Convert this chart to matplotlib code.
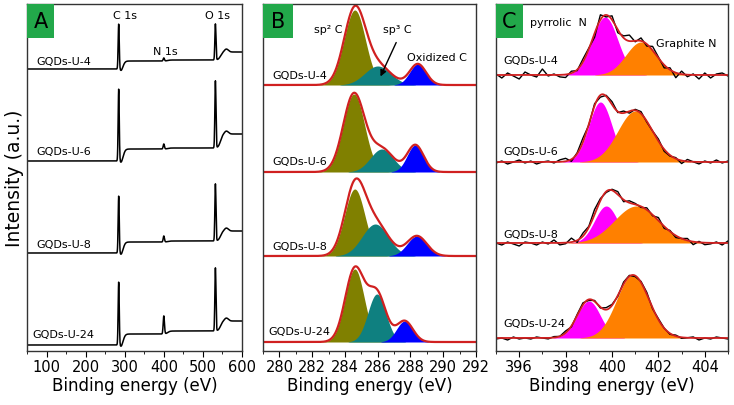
import matplotlib
matplotlib.use('Agg')
import matplotlib.pyplot as plt
from matplotlib.patches import Rectangle
import numpy as np

plt.rcParams['font.family'] = ['DejaVu Sans']

samples = ['GQDs-U-4', 'GQDs-U-6', 'GQDs-U-8', 'GQDs-U-24']

# panel A: survey spectra (offset + peak heights, a.u.)
survey_base = [282, 190, 98, 6]
c1s_peak = [45, 72, 57, 63]
c1s_step = [8, 12, 11, 11]
n1s_peak = [3, 5, 6, 18]
n1s_step = [1, 1, 1, 3]
o1s_peak = [36, 67, 57, 63]
o1s_step = [8, 14, 10, 10]

# panel B: C 1s fits (center eV, height, sigma)
c_base = [266, 179, 95, 9]
sp2_pos = [284.6, 284.55, 284.6, 284.6]
sp2_h = [75, 78, 67, 73]
sp2_w = [0.65, 0.65, 0.62, 0.58]
sp3_pos = [286.0, 286.25, 285.85, 285.95]
sp3_h = [19, 23, 32, 48]
sp3_w = [0.8, 0.7, 0.8, 0.55]
oxc_pos = [288.45, 288.3, 288.4, 287.65]
oxc_h = [21, 27, 20, 21]
oxc_w = [0.5, 0.5, 0.6, 0.5]

# panel C: N 1s fits
n_base = [276, 189, 108, 13]
pyr_pos = [399.7, 399.5, 399.75, 399.0]
pyr_h = [58, 60, 37, 37]
pyr_w = [0.55, 0.5, 0.5, 0.5]
gra_pos = [401.25, 401.0, 401.05, 400.9]
gra_h = [33, 51, 37, 63]
gra_w = [0.65, 0.75, 0.95, 0.7]
# raw-data scatter around the fit, 395-405 eV every 0.25 eV
n_noise = [
    [1, -3, 2, -1, -4, 3, 0, -2, 6, -1, 1, -2, -3, 2, -1, 3, 1, -4, 5, -2, 4,
     -3, 2, 6, -1, 3, -2, 4, 1, -3, 2, -5, 3, -2, 1, -4, 2, -3, 1, 2, -1],
    [-1, 1, -2, 0, 2, -1, 1, -2, 0, 1, -1, 2, 3, -2, 1, 4, -1, 2, -2, 1, 3,
     -1, 2, -2, 1, 2, -1, 0, 2, -2, -1, 1, -3, 2, 0, -2, 1, -1, 2, -1, 1],
    [0, -2, 1, -1, -3, 1, 0, -2, 1, -1, 3, -2, -1, 4, -2, 3, 1, 5, 2, -1, 1,
     3, -2, 2, 1, -1, 2, -1, 3, -2, 1, -2, 0, 2, -3, 1, -2, -1, 1, -2, 2],
    [-1, 0, -2, 1, -1, 0, -1, 1, 0, -1, 1, 0, 2, -1, 1, 2, -1, 1, -1, 2, 1,
     -1, 2, 1, -1, 1, 2, -1, 1, 0, -1, 1, -1, 0, 1, -2, 0, -1, 1, 0, -1],
]

GREEN = '#22a84a'
RED = '#d02020'


def gauss(x, c, h, w):
    return h * np.exp(-0.5 * ((x - c) / w) ** 2)


def step(x, c, w):
    return 1.0 / (1.0 + np.exp(-(x - c) / w))


def letter(ax, s, wfrac):
    ax.add_patch(Rectangle((0, 1 - 34 / 347), wfrac, 34 / 347, transform=ax.transAxes,
                           facecolor=GREEN, edgecolor='none', zorder=5))
    ax.text(wfrac / 2, 1 - 17 / 347, s, transform=ax.transAxes, ha='center', va='center',
            fontsize=15, zorder=6)


def style(ax, xlim, major, minor):
    ax.set_xlim(*xlim)
    ax.set_ylim(0, 347)
    ax.set_yticks([])
    ax.set_xticks(major)
    ax.set_xticks(minor, minor=True)
    ax.tick_params(axis='x', direction='out', length=4, labelsize=10.5, pad=2)
    ax.tick_params(axis='x', which='minor', direction='out', length=2)
    ax.set_xlabel('Binding energy (eV)', fontsize=12, labelpad=1)
    for s in ax.spines.values():
        s.set_linewidth(1.0)
        s.set_color('#333333')


fig = plt.figure(figsize=(7.34, 4.06), dpi=100)
H = 406.0
W = 734.0
axA = fig.add_axes([27 / W, 54 / H, 215 / W, 347 / H])
axB = fig.add_axes([263 / W, 54 / H, 213 / W, 347 / H])
axC = fig.add_axes([496 / W, 54 / H, 232 / W, 347 / H])

# ---- A ----
e = np.arange(50, 600.5, 0.5)
label_y_A = [290, 200, 107, 17]
for i in range(4):
    y = (survey_base[i] + gauss(e, 284.6, c1s_peak[i], 1.4)
         + c1s_step[i] * step(e, 297, 2.5) - gauss(e, 291, 2, 2.5)
         + gauss(e, 400, n1s_peak[i], 1.6) + n1s_step[i] * step(e, 410, 3)
         + gauss(e, 532, o1s_peak[i], 1.4) + o1s_step[i] * step(e, 545, 3)
         + gauss(e, 560, 3, 5))
    axA.plot(e, y, color='black', lw=1.1)
    axA.text(75 if i < 3 else 65, label_y_A[i], samples[i], fontsize=8, va='center')
axA.text(300, 336, 'C 1s', fontsize=8, ha='center', va='center')
axA.text(405, 300, 'N 1s', fontsize=8, ha='center', va='center')
axA.text(537, 336, 'O 1s', fontsize=8, ha='center', va='center')
axA.set_ylabel('Intensity (a.u.)', fontsize=13.5, labelpad=2)
style(axA, (50, 600), range(100, 601, 100), range(50, 601, 50))
letter(axA, 'A', 27 / 215)

# ---- B ----
eb = np.arange(279, 292.01, 0.02)
label_y_B = [276, 190, 105, 20]
for i in range(4):
    b = c_base[i]
    g1 = gauss(eb, sp2_pos[i], sp2_h[i], sp2_w[i])
    g2 = gauss(eb, sp3_pos[i], sp3_h[i], sp3_w[i])
    g3 = gauss(eb, oxc_pos[i], oxc_h[i], oxc_w[i])
    axB.fill_between(eb, b, b + g1, color='#808000', lw=0)
    axB.fill_between(eb, b, b + g2, where=g2 > 0.3, color='#0f8080', lw=0)
    axB.fill_between(eb, b, b + g3, where=g3 > 0.3, color='#0000ff', lw=0)
    axB.plot(eb, b + g1 + g2 + g3, color=RED, lw=1.6)
    axB.text(279.55 if i < 3 else 279.3, label_y_B[i], samples[i], fontsize=8, va='center')
axB.text(283.0, 322, 'sp² C', fontsize=8, ha='center', va='center')
axB.text(287.2, 322, 'sp³ C', fontsize=8, ha='center', va='center')
axB.annotate('', xy=(286.1, 272), xytext=(287.2, 311),
             arrowprops=dict(arrowstyle='-|>', color='black', lw=1.0, mutation_scale=9))
axB.text(289.6, 294, 'Oxidized C', fontsize=8, ha='center', va='center')
style(axB, (279, 292), range(280, 293, 2), range(279, 293, 1))
letter(axB, 'B', 30 / 213)

# ---- C ----
ec = np.arange(395, 405.01, 0.02)
er = np.linspace(395, 405, 41)
label_y_C = [291, 200, 117, 28]
for i in range(4):
    b = n_base[i]
    p1 = gauss(ec, pyr_pos[i], pyr_h[i], pyr_w[i])
    p2 = gauss(ec, gra_pos[i], gra_h[i], gra_w[i])
    raw = (b + gauss(er, pyr_pos[i], pyr_h[i], pyr_w[i])
           + gauss(er, gra_pos[i], gra_h[i], gra_w[i]) + np.array(n_noise[i]))
    axC.fill_between(ec, b, b + p1, where=p1 > 0.3, color='#ff00ff', lw=0)
    axC.fill_between(ec, b, b + p2, where=p2 > 0.3, color='#ff8000', lw=0)
    axC.plot(er, raw, color='black', lw=1.0)
    axC.plot(ec, b + p1 + p2, color=RED, lw=1.3)
    axC.text(395.3, label_y_C[i], samples[i], fontsize=8, va='center')
axC.text(396.45, 329, 'pyrrolic  N', fontsize=8, va='center')
axC.text(401.9, 308, 'Graphite N', fontsize=8, va='center')
style(axC, (395, 405), range(396, 405, 2), range(395, 406, 1))
letter(axC, 'C', 27 / 232)

fig.savefig('out.png', dpi=100)
